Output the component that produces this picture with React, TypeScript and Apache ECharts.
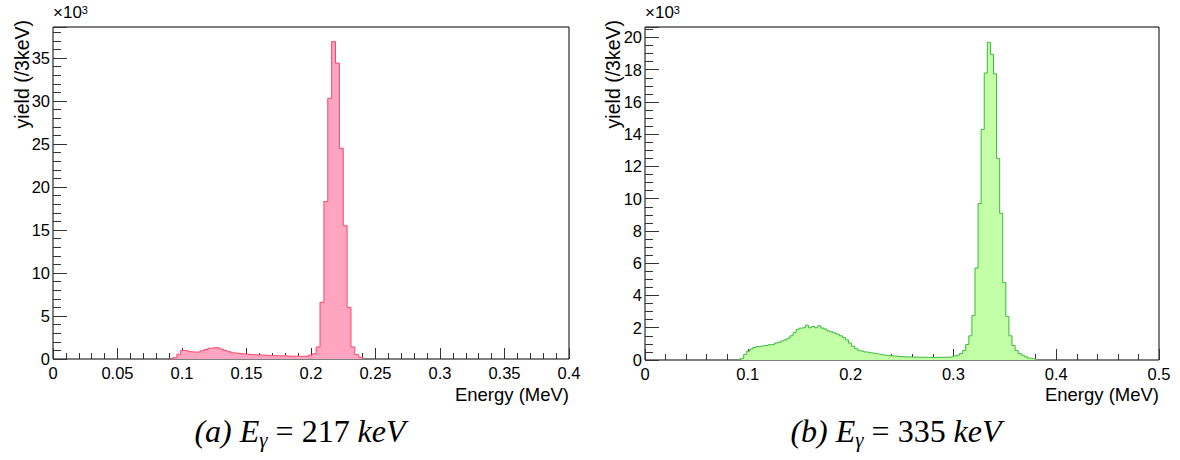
import React, { useEffect, useRef } from 'react';
import * as echarts from 'echarts';

// Histogram bin width (MeV) and bin contents (x10^3 counts)
const binWidth = 0.003;

// (a) E_gamma = 217 keV : bins starting at 0.090 MeV
const leftStart = 0.09;
const leftCounts = [
  0, 0.15, 0.55, 1.0, 0.95, 0.85, 0.8, 0.82, 0.95, 1.1,
  1.25, 1.32, 1.3, 1.15, 1.0, 0.85, 0.72, 0.65, 0.6, 0.58,
  0.52, 0.5, 0.48, 0.45, 0.44, 0.42, 0.4, 0.38, 0.36, 0.38,
  0.34, 0.32, 0.33, 0.3, 0.32, 0.3, 0.45, 0.6, 1.4, 6.6,
  18.3, 30.3, 36.9, 34.4, 24.5, 15.5, 6.0, 1.4, 0.5, 0.2,
  0,
];

// (b) E_gamma = 335 keV : bins starting at 0.090 MeV
const rightStart = 0.09;
const rightCounts = [
  0, 0.1, 0.35, 0.55, 0.68, 0.78, 0.83, 0.87, 0.9, 0.9,
  0.95, 0.96, 1.05, 1.1, 1.18, 1.25, 1.35, 1.5, 1.7, 1.9,
  1.98, 2.02, 2.16, 2.0, 2.08, 2.0, 2.12, 1.98, 1.92, 1.8,
  1.75, 1.68, 1.6, 1.5, 1.4, 1.25, 1.05, 0.85, 0.7, 0.6,
  0.55, 0.5, 0.46, 0.43, 0.4, 0.37, 0.33, 0.3, 0.28, 0.26,
  0.25, 0.23, 0.22, 0.2, 0.19, 0.19, 0.18, 0.18, 0.17, 0.17,
  0.17, 0.16, 0.17, 0.16, 0.17, 0.16, 0.17, 0.17, 0.18, 0.2,
  0.25, 0.3, 0.4, 0.6, 0.96, 1.5, 2.75, 5.7, 9.7, 14.3,
  17.8, 19.7, 18.95, 17.75, 12.5, 9.1, 4.8, 2.7, 1.5, 0.9,
  0.6, 0.4, 0.3, 0.2, 0.12, 0.08, 0.04, 0,
];

// Axis ranges and tick steps
const leftXMax = 0.4;
const leftXStep = 0.05;
const leftYMax = 38.6;
const leftYStep = 5;
const leftYMinorStep = 1;
const rightXMax = 0.5;
const rightXStep = 0.1;
const rightYMax = 20.65;
const rightYStep = 2;
const rightYMinorStep = 0.5;

const xTitle = 'Energy (MeV)';
const yTitle = 'yield (/3keV)';
const captions = [
  { tag: '(a) E', energy: ' = 217 ' },
  { tag: '(b) E', energy: ' = 335 ' },
];

const FONT = 'Liberation Sans';
const SERIF = 'Liberation Serif';

function buildHist(start: number, counts: number[]) {
  return counts.map((v, i) => [+(start + i * binWidth).toFixed(4), v]);
}

function fmtMajor(step: number) {
  return (v: number) => {
    const r = v / step;
    if (Math.abs(r - Math.round(r)) > 1e-6) return '';
    return String(+v.toFixed(4));
  };
}

export default function App() {
  const ref = useRef<HTMLDivElement>(null);

  useEffect(() => {
    if (!ref.current) return;
    const chart = echarts.init(ref.current, undefined, { renderer: 'svg' });

    const tickColor = '#333';
    const xAxisBase = (gridIndex: number, max: number, step: number) => ({
      gridIndex,
      type: 'value',
      min: 0,
      max,
      interval: step,
      axisLine: { show: false },
      splitLine: { show: false },
      axisTick: { show: true, inside: true, length: 11, lineStyle: { color: tickColor, width: 1 } },
      minorTick: { show: true, splitNumber: 5, length: 6, lineStyle: { color: tickColor, width: 1 } },
      axisLabel: {
        fontFamily: FONT,
        fontSize: 16.5,
        lineHeight: 18,
        color: '#000',
        margin: 5,
        formatter: fmtMajor(step),
      },
    });
    const yMajor = (gridIndex: number, max: number, step: number) => ({
      gridIndex,
      type: 'value',
      position: 'left',
      min: 0,
      max,
      interval: step,
      axisLine: { show: false },
      splitLine: { show: false },
      axisTick: { show: true, inside: true, length: 14, lineStyle: { color: tickColor, width: 1 } },
      axisLabel: {
        fontFamily: FONT,
        fontSize: 16.5,
        color: '#000',
        margin: 3,
        formatter: fmtMajor(step),
      },
    });
    const yMinor = (gridIndex: number, max: number, step: number) => ({
      gridIndex,
      type: 'value',
      position: 'left',
      min: 0,
      max,
      interval: step,
      axisLine: { show: false },
      splitLine: { show: false },
      axisTick: { show: true, inside: true, length: 8, lineStyle: { color: tickColor, width: 1 } },
      axisLabel: { show: false },
    });

    const sup = (x: number, y: number) => ({
      type: 'text',
      x,
      y,
      style: {
        text: '{a|×10}{b|3}',
        rich: {
          a: { fontFamily: FONT, fontSize: 17, fill: '#000' },
          b: { fontFamily: FONT, fontSize: 11, fill: '#000', verticalAlign: 'top' },
        },
        verticalAlign: 'top',
      },
    });

    const yName = (x: number) => ({
      type: 'text',
      x,
      y: 20,
      rotation: Math.PI / 2,
      style: {
        text: yTitle,
        fontFamily: FONT,
        fontSize: 19.5,
        fill: '#000',
        align: 'right',
        verticalAlign: 'middle',
      },
    });

    const xName = (x: number) => ({
      type: 'text',
      x,
      y: 385,
      style: {
        text: xTitle,
        fontFamily: FONT,
        fontSize: 18.5,
        lineHeight: 19,
        fill: '#000',
        align: 'right',
        verticalAlign: 'top',
      },
    });

    const caption = (cx: number, c: { tag: string; energy: string }) => ({
      type: 'text',
      x: cx,
      y: 431,
      style: {
        text: `{i|${c.tag}}{s|γ}{r|${c.energy}}{i|keV}`,
        align: 'center',
        verticalAlign: 'middle',
        rich: {
          i: { fontFamily: SERIF, fontStyle: 'italic', fontSize: 32, fill: '#000' },
          s: { fontFamily: SERIF, fontStyle: 'italic', fontSize: 21, fill: '#000', verticalAlign: 'bottom', padding: [17, 0, 0, 0] },
          r: { fontFamily: SERIF, fontSize: 32, fill: '#000' },
        },
      },
    });

    const option = {
      animation: false,
      backgroundColor: '#fff',
      grid: [
        { left: 53, top: 27, width: 516, height: 332, show: true, borderColor: '#000', borderWidth: 1, backgroundColor: 'transparent' },
        { left: 645, top: 27, width: 514, height: 333, show: true, borderColor: '#000', borderWidth: 1, backgroundColor: 'transparent' },
      ],
      xAxis: [xAxisBase(0, leftXMax, leftXStep), xAxisBase(1, rightXMax, rightXStep)],
      yAxis: [
        yMajor(0, leftYMax, leftYStep),
        yMinor(0, leftYMax, leftYMinorStep),
        yMajor(1, rightYMax, rightYStep),
        yMinor(1, rightYMax, rightYMinorStep),
      ],
      series: [
        {
          type: 'line',
          xAxisIndex: 0,
          yAxisIndex: 0,
          data: buildHist(leftStart, leftCounts),
          step: 'end',
          symbol: 'none',
          lineStyle: { color: '#ff4466', width: 1 },
          areaStyle: { color: '#ffa5c2', opacity: 1 },
        },
        {
          type: 'line',
          xAxisIndex: 1,
          yAxisIndex: 2,
          data: buildHist(rightStart, rightCounts),
          step: 'end',
          symbol: 'none',
          lineStyle: { color: '#3cb83c', width: 1 },
          areaStyle: { color: '#c2ffa6', opacity: 1 },
        },
      ],
      graphic: [
        sup(53, 4),
        sup(645, 4),
        yName(22),
        yName(613),
        xName(569),
        xName(1159),
        caption(300, captions[0]),
        caption(896, captions[1]),
      ],
    };

    chart.setOption(option as any);
    return () => chart.dispose();
  }, []);

  return (
    <div
      ref={ref}
      style={{ position: 'absolute', left: 0, top: 0, width: 1180, height: 460, background: '#fff' }}
    />
  );
}
